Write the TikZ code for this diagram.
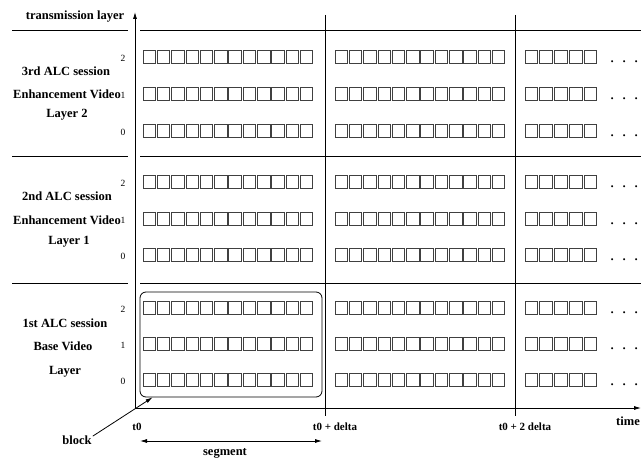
\documentclass[tikz,border=0pt]{standalone}
\usepackage{fontspec}
\setmainfont{Liberation Serif}
\usetikzlibrary{arrows.meta}
\begin{document}
\begin{tikzpicture}[x=1pt,y=-1pt,
  lbl/.style={font=\fontsize{12.5}{14}\selectfont\bfseries, inner sep=0pt, anchor=base},
  tlbl/.style={font=\fontsize{11}{13}\selectfont\bfseries, inner sep=0pt, anchor=base},
  num/.style={font=\fontsize{9.5}{11}\selectfont, inner sep=0pt},
  dots/.style={font=\fontsize{17}{19}\selectfont, inner sep=0pt, anchor=base west},
  sq/.style={draw=black!75, line width=0.75pt},
  sep/.style={line width=0.8pt},
  tip/.style={line width=0.8pt,-{Latex[length=7pt,width=4pt]}},
  dtip/.style={line width=0.8pt,{Latex[length=7pt,width=4pt]}-{Latex[length=7pt,width=4pt]}},
]
\useasboundingbox (0,0) rectangle (641,460);

% axes
\coordinate (O) at (135,408);
\coordinate (ytop) at (135,12);
\coordinate (xend) at (641,408);
\draw[tip] (O) -- (ytop);
\draw[tip] (O) -- (xend);

% horizontal separators
\foreach \y in {30,156,283} {
  \draw[sep] (12,\y) -- (128,\y);
  \draw[sep] (140,\y) -- (641,\y);
}

% time marks
\coordinate (d1a) at (325.5,15); \coordinate (d1b) at (325.5,416);
\coordinate (d2a) at (515,15);   \coordinate (d2b) at (515,416);
\draw[sep] (d1a) -- (d1b);
\draw[sep] (d2a) -- (d2b);

% squares
\foreach \yc in {57,94,131,182,219,255,308,344,380} {
  \foreach \i in {0,...,11} {
    \draw[sq] ({143+14.3*\i},{\yc-6.4}) rectangle ++(12.5,12.8);
    \draw[sq] ({335+14.3*\i},{\yc-6.4}) rectangle ++(12.5,12.8);
  }
  \foreach \i in {0,...,4} {
    \draw[sq] ({525+14.8*\i},{\yc-6.4}) rectangle ++(12.5,12.8);
  }
  \node[dots] at (610,{\yc+5.5}) {.\hspace{7.7pt}.\hspace{7.7pt}.};
}

% layer numbers
\foreach \yc/\n in {57/2,94/1,131/0,182/2,219/1,255/0,308/2,344/1,380/0} {
  \node[num] at (123,{\yc+1.5}) {\n};
}

% left labels
\node[lbl] (tl) at (75,20) {transmission layer};
\node[lbl] (s3a) at (66,75.5) {3rd ALC session};
\node[lbl] (s3b) at (67,98.5) {Enhancement Video};
\node[lbl] (s3c) at (67,117.5) {Layer 2};
\node[lbl] (s2a) at (67,200.5) {2nd ALC session};
\node[lbl] (s2b) at (67,224.5) {Enhancement Video};
\node[lbl] (s2c) at (69,244.5) {Layer 1};
\node[lbl] (s1a) at (65,327.5) {1st ALC session};
\node[lbl] (s1b) at (63,350.5) {Base Video};
\node[lbl] (s1c) at (65,374.5) {Layer};

% time labels
\node[tlbl] (t0) at (137,430) {t0};
\node[tlbl] (t1) at (335,430) {t0 + delta};
\node[tlbl] (t2) at (525,430) {t0 + 2 delta};
\node[lbl] (time) at (628,425) {time};

% segment box
\node[draw, rounded corners=6pt, line width=0.8pt, minimum width=182pt, minimum height=105pt, inner sep=0pt] (blockbox) at (231,344.5) {};

\node[lbl] (block) at (77,444) {block};
\draw[tip] ([xshift=1pt,yshift=-1pt]block.north east) -- ([xshift=13pt]blockbox.south west);

\coordinate (sL) at (140,441);
\coordinate (sR) at (322,441);
\draw[dtip] (sL) -- (sR);
\node[lbl] (seg) at (225,455) {segment};
\end{tikzpicture}
\end{document}
